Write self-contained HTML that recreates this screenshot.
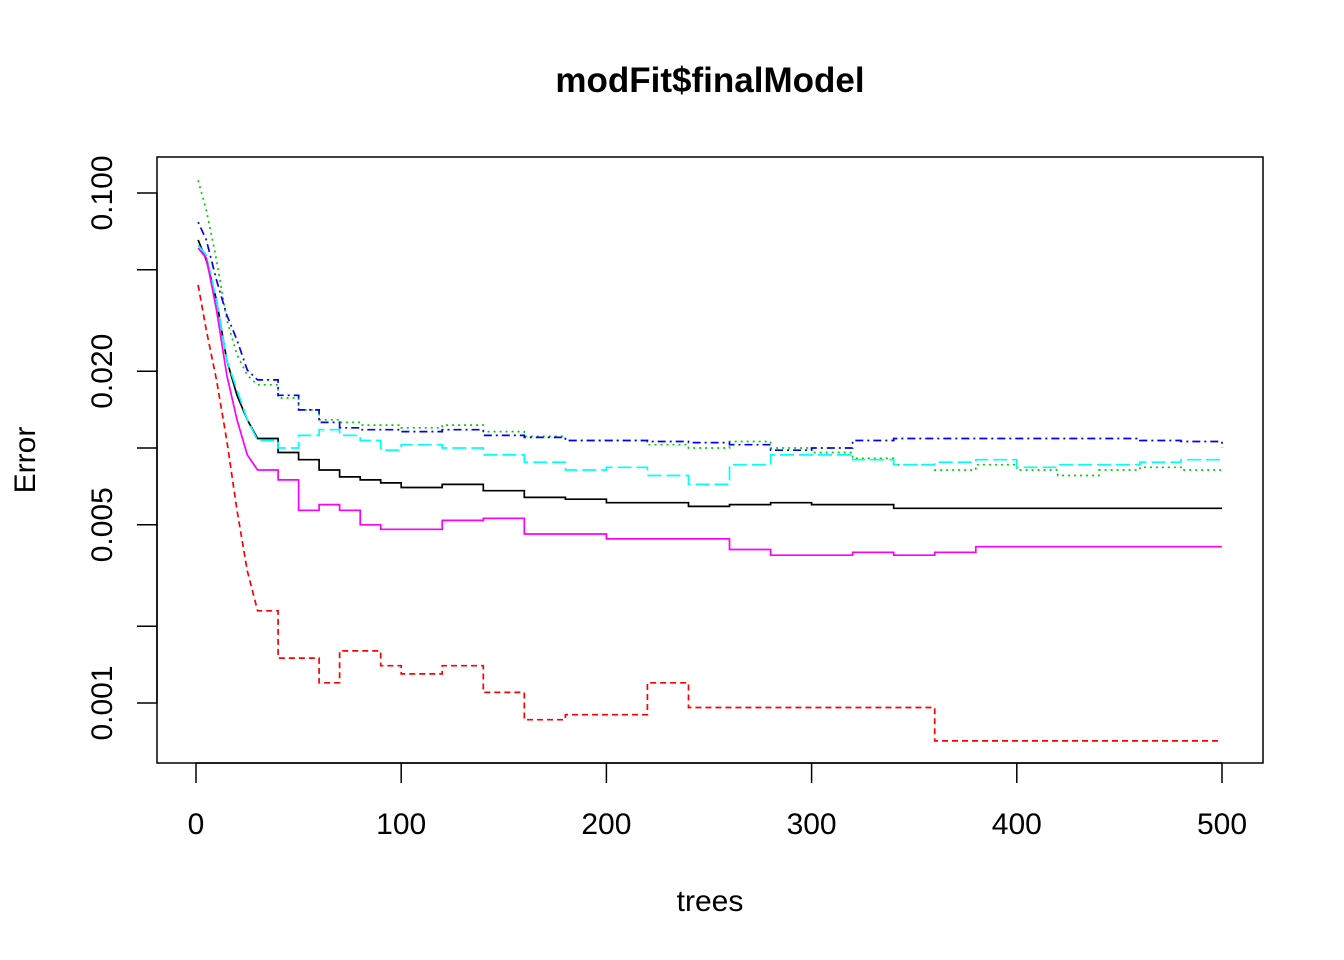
<!DOCTYPE html>
<html><head><meta charset="utf-8"><style>
html,body{margin:0;padding:0;background:#fff}
svg{display:block;font-family:"Liberation Sans",Arial,sans-serif}
</style></head><body>
<svg id="chart" width="1344" height="960" viewBox="0 0 1344 960">
<rect x="0" y="0" width="1344" height="960" fill="#fff"/>
<text x="710" y="92" text-anchor="middle" font-size="35" font-weight="bold">modFit$finalModel</text>
<text x="710" y="911" text-anchor="middle" font-size="30">trees</text>
<text x="0" y="0" transform="translate(35,460) rotate(-90)" text-anchor="middle" font-size="30">Error</text>
<g id="series"></g>
<g id="axes"></g>
<rect x="157" y="157" width="1106" height="606" fill="none" stroke="#000" stroke-width="1.5"/>
</svg>
<script>
const trees = [1,5,10,15,20,25,30,40,50,60,70,80,90,100,120,140,160,180,200,220,240,260,280,300,320,340,360,380,400,420,440,460,480,500];
const oob = [0.0655,0.0546,0.038,0.0221,0.0161,0.0129,0.0109,0.0096,0.009,0.0082,0.0077,0.0075,0.0073,0.007,0.0072,0.0068,0.0064,0.0063,0.0061,0.0061,0.0059,0.006,0.0061,0.006,0.006,0.0058,0.0058,0.0058,0.0058,0.0058,0.0058,0.0058,0.0058,0.0058];
const classA = [0.0436,0.029,0.0185,0.0107,0.0057,0.0033,0.0023,0.0015,0.0015,0.0012,0.0016,0.0016,0.0014,0.0013,0.0014,0.0011,0.00086,0.0009,0.0009,0.0012,0.00096,0.00096,0.00096,0.00096,0.00096,0.00096,0.00071,0.00071,0.00071,0.00071,0.00071,0.00071,0.00071,0.00071];
const classB = [0.112,0.0857,0.0546,0.0318,0.0232,0.0193,0.0177,0.0157,0.0141,0.0129,0.0126,0.0123,0.0123,0.012,0.0123,0.0116,0.0111,0.0107,0.0107,0.0103,0.01,0.0106,0.01,0.0096,0.0091,0.0086,0.0082,0.0086,0.0082,0.0078,0.0082,0.0084,0.0082,0.0084];
const classC = [0.0769,0.0655,0.0456,0.0332,0.0265,0.0202,0.0185,0.0161,0.0141,0.0126,0.012,0.0118,0.0118,0.0116,0.0118,0.0112,0.011,0.0107,0.0107,0.0106,0.0105,0.0103,0.0098,0.01,0.0107,0.0109,0.0109,0.0109,0.0109,0.0109,0.0109,0.0107,0.0106,0.01];
const classD = [0.0625,0.0571,0.038,0.0221,0.0169,0.0129,0.0107,0.01,0.0112,0.0118,0.0112,0.0107,0.0098,0.0103,0.01,0.0094,0.0088,0.0082,0.0084,0.0078,0.0072,0.0086,0.0094,0.0094,0.009,0.0086,0.0088,0.009,0.0084,0.0086,0.0086,0.0088,0.009,0.009];
const classE = [0.0608,0.0556,0.0348,0.0193,0.0129,0.0094,0.0082,0.0075,0.0057,0.006,0.0057,0.005,0.0048,0.0048,0.0052,0.0053,0.0046,0.0046,0.0044,0.0044,0.0044,0.004,0.0038,0.0038,0.0039,0.0038,0.0039,0.0041,0.0041,0.0041,0.0041,0.0041,0.0041,0.0041];
const xTicks = [0,100,200,300,400,500];
const yMajor = [0.1,0.02,0.005,0.001];
const yMajorLabels = ["0.100","0.020","0.005","0.001"];
const yMinor = [0.05,0.01,0.002];

const NS = "http://www.w3.org/2000/svg";
function xs(t){ return 196 + t * (1222 - 196) / 500; }
function ys(v){ return 193 + (-1 - Math.log10(v)) * 255; }

const seriesDefs = [
  {d: oob, c: "#000000", dash: "", n: "line-oob"},
  {d: classA, c: "#ff0000", dash: "6,4", n: "line-class-1"},
  {d: classB, c: "#00cd00", dash: "2,4", n: "line-class-2"},
  {d: classC, c: "#0000ff", dash: "2,4,8,4", n: "line-class-3"},
  {d: classD, c: "#00ffff", dash: "14,5", n: "line-class-4"},
  {d: classE, c: "#ff00ff", dash: "", n: "line-class-5"}
];
const sg = document.getElementById("series");
seriesDefs.forEach(s => {
  const pts = [];
  s.d.forEach((v,i) => {
    if (i > 0 && i > 6) pts.push(xs(trees[i]).toFixed(1) + "," + ys(s.d[i-1]).toFixed(1));
    pts.push(xs(trees[i]).toFixed(1) + "," + ys(v).toFixed(1));
  });
  const p = document.createElementNS(NS, "polyline");
  p.setAttribute("points", pts.join(" "));
  p.setAttribute("fill", "none");
  p.setAttribute("stroke", s.c);
  p.setAttribute("stroke-width", "1.7");
  if (s.dash) p.setAttribute("stroke-dasharray", s.dash);
  
  
  sg.appendChild(p);
});

const ag = document.getElementById("axes");
function line(x1,y1,x2,y2,name){
  const l = document.createElementNS(NS, "line");
  l.setAttribute("x1",x1); l.setAttribute("y1",y1); l.setAttribute("x2",x2); l.setAttribute("y2",y2);
  l.setAttribute("stroke","#000"); l.setAttribute("stroke-width","1.5");
  
  
  ag.appendChild(l);
}
line(xs(xTicks[0]), 763, xs(xTicks[xTicks.length-1]), 763, "x-axis-line");
xTicks.forEach(t => {
  line(xs(t), 763, xs(t), 783, "x-tick");
  const tx = document.createElementNS(NS, "text");
  tx.setAttribute("x", xs(t)); tx.setAttribute("y", 834);
  tx.setAttribute("text-anchor", "middle"); tx.setAttribute("font-size", "30");
  tx.textContent = t;
  
  
  ag.appendChild(tx);
});
line(157, ys(yMajor[0]), 157, ys(yMajor[yMajor.length-1]), "y-axis-line");
yMajor.forEach((v,i) => {
  line(137, ys(v), 157, ys(v), "y-tick");
  const tx = document.createElementNS(NS, "text");
  tx.setAttribute("transform", "translate(112," + ys(v) + ") rotate(-90)");
  tx.setAttribute("text-anchor", "middle"); tx.setAttribute("font-size", "30");
  tx.textContent = yMajorLabels[i];
  
  
  ag.appendChild(tx);
});
yMinor.forEach(v => line(137, ys(v), 157, ys(v), "y-minor-tick"));
</script>
</body></html>
